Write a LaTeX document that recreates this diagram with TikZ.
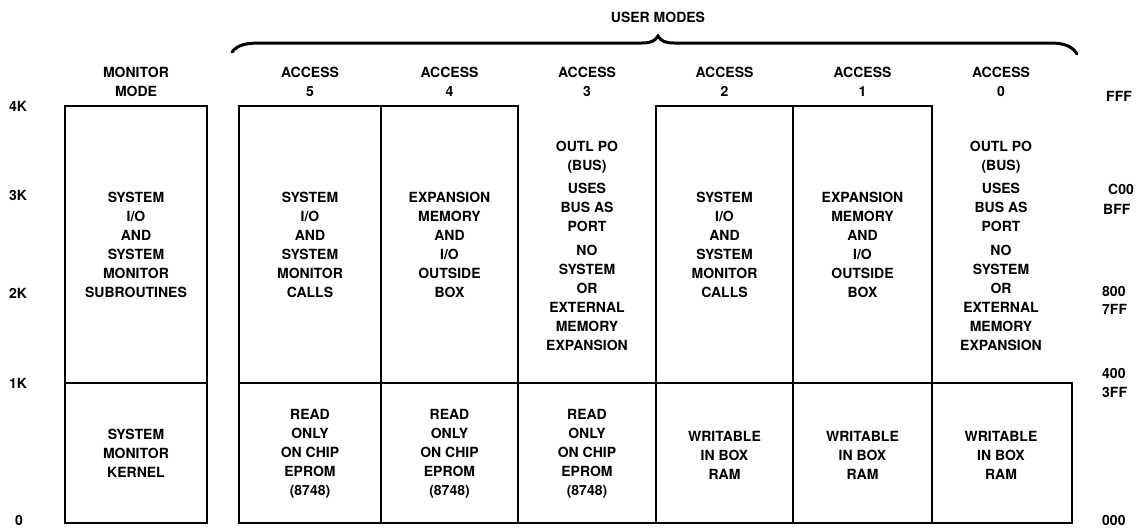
\documentclass[tikz,border=0pt]{standalone}
\usepackage{fontspec}
\setmainfont{TeX Gyre Heros}
\begin{document}
\begin{tikzpicture}[x=1pt,y=-1pt,
  lbl/.style={font=\fontsize{14}{19}\selectfont\bfseries, align=center, inner sep=0pt},
  boxline/.style={line width=2.8pt, line join=miter},
  bracepath/.style={line width=3pt, line cap=round}]
\useasboundingbox[fill=white] (0,0) rectangle (1138,528);

% boxes
\draw[boxline] (65,106) rectangle (207,523);
\draw[boxline] (65,383) -- (207,383);
\draw[boxline] (239,106) rectangle (518,383);
\draw[boxline] (381,106) -- (381,383);
\draw[boxline] (656,106) rectangle (932,383);
\draw[boxline] (793,106) -- (793,383);
\draw[boxline] (239,383) rectangle (1072,523);
\foreach \xx in {381,518,656,793,932} \draw[boxline] (\xx,383) -- (\xx,523);

% brace
\draw[bracepath] (232,52) .. controls (238,44) and (248,43) .. (262,43) -- (642,43)
  .. controls (651,43) and (655,41) .. (658,36)
  .. controls (661,41) and (665,43) .. (674,43) -- (1050,43)
  .. controls (1064,43) and (1072,46) .. (1077,54);
\node[lbl] (um) at (658,17) {USER MODES};

% headers
\node[lbl] (hm) at (136,81.5) {MONITOR\\MODE};
\node[lbl] (h5) at (310,81.5) {ACCESS\\5};
\node[lbl] (h4) at (449.5,81.5) {ACCESS\\4};
\node[lbl] (h3) at (587,81.5) {ACCESS\\3};
\node[lbl] (h2) at (724.5,81.5) {ACCESS\\2};
\node[lbl] (h1) at (862.5,81.5) {ACCESS\\1};
\node[lbl] (h0) at (1001,81.5) {ACCESS\\0};

% left scale
\node[lbl] (k4) at (18,106) {4K};
\node[lbl] (k3) at (18,195) {3K};
\node[lbl] (k2) at (18,293) {2K};
\node[lbl] (k1) at (18,383) {1K};
\node[lbl] (k0) at (19,520) {0};

% right scale
\node[lbl, anchor=west] (aFFF) at (1106,96) {FFF};
\node[lbl, anchor=west] (aC00) at (1108,189) {C00};
\node[lbl, anchor=west] (aBFF) at (1103,209) {BFF};
\node[lbl, anchor=west] (a800) at (1102,291) {800};
\node[lbl, anchor=west] (a7FF) at (1102,309) {7FF};
\node[lbl, anchor=west] (a400) at (1102,373) {400};
\node[lbl, anchor=west] (a3FF) at (1102,392) {3FF};
\node[lbl, anchor=west] (a000) at (1102,520) {000};

% upper contents
\node[lbl] (mU) at (136,245) {SYSTEM\\I/O\\AND\\SYSTEM\\MONITOR\\SUBROUTINES};
\node[lbl] (u5) at (310,245) {SYSTEM\\I/O\\AND\\SYSTEM\\MONITOR\\CALLS};
\node[lbl] (u4) at (449.5,245) {EXPANSION\\MEMORY\\AND\\I/O\\OUTSIDE\\BOX};
\node[lbl] (u3) at (587,245.5) {OUTL PO\\(BUS)\\[4.5pt]USES\\BUS AS\\PORT\\[4.5pt]NO\\SYSTEM\\OR\\EXTERNAL\\MEMORY\\EXPANSION};
\node[lbl] (u2) at (724.5,245) {SYSTEM\\I/O\\AND\\SYSTEM\\MONITOR\\CALLS};
\node[lbl] (u1) at (862.5,245) {EXPANSION\\MEMORY\\AND\\I/O\\OUTSIDE\\BOX};
\node[lbl] (u0) at (1001,245.5) {OUTL PO\\(BUS)\\[4.5pt]USES\\BUS AS\\PORT\\[4.5pt]NO\\SYSTEM\\OR\\EXTERNAL\\MEMORY\\EXPANSION};

% lower contents
\node[lbl] (mL) at (136,453) {SYSTEM\\MONITOR\\KERNEL};
\node[lbl] (l5) at (310,453.5) {READ\\ONLY\\ON CHIP\\EPROM\\(8748)};
\node[lbl] (l4) at (449.5,453.5) {READ\\ONLY\\ON CHIP\\EPROM\\(8748)};
\node[lbl] (l3) at (587,453.5) {READ\\ONLY\\ON CHIP\\EPROM\\(8748)};
\node[lbl] (l2) at (724.5,455) {WRITABLE\\IN BOX\\RAM};
\node[lbl] (l1) at (862.5,455) {WRITABLE\\IN BOX\\RAM};
\node[lbl] (l0) at (1001,455) {WRITABLE\\IN BOX\\RAM};
\end{tikzpicture}
\end{document}
